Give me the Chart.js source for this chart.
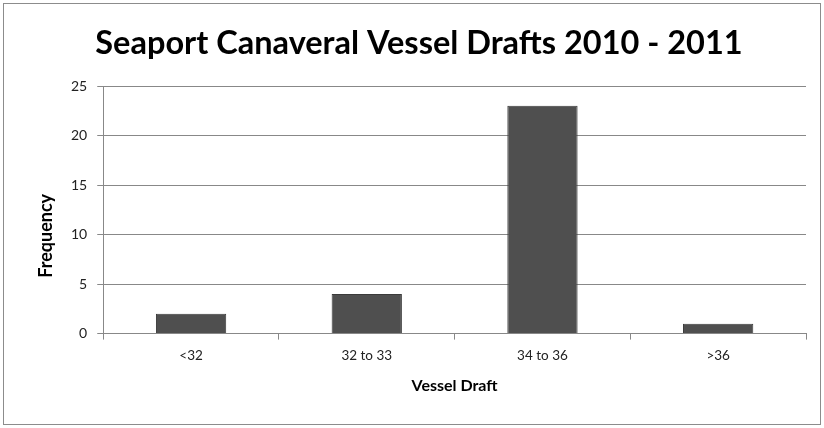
<!DOCTYPE html>
<html>
<head>
<meta charset="utf-8">
<script src="https://cdn.jsdelivr.net/npm/chart.js@4"></script>
<style>
  body { margin: 0; background: #fff; }
  #wrap { width: 824px; height: 428px; position: relative; }
</style>
</head>
<body>
<div id="wrap"><canvas id="myChart" width="824" height="428"></canvas></div>
<script>
const categories = ['<32', '32 to 33', '34 to 36', '>36'];
const frequency = [2, 4, 23, 1];
const yTicks = [0, 5, 10, 15, 20, 25];

// outer frame like the spreadsheet chart box
const frame = {
  id: 'frame',
  beforeDraw(chart) {
    const c = chart.ctx;
    c.save();
    c.fillStyle = '#fff';
    c.fillRect(0, 0, chart.width, chart.height);
    c.strokeStyle = '#8c8c8c';
    c.lineWidth = 1;
    c.strokeRect(3.5, 3.5, chart.width - 7, chart.height - 7);
    c.restore();
  }
};

// y axis title sits a bit below the plot middle in the original
const yTitle = {
  id: 'yTitle',
  afterDraw(chart) {
    const c = chart.ctx;
    const a = chart.chartArea;
    c.save();
    c.translate(46, (a.top + a.bottom) / 2 + 26);
    c.rotate(-Math.PI / 2);
    c.font = 'bold 18px Lato';
    c.fillStyle = '#000';
    c.textAlign = 'center';
    c.textBaseline = 'middle';
    c.fillText('Frequency', 0, 0);
    c.restore();
  }
};

const ctx = document.getElementById('myChart').getContext('2d');
const mychart = new Chart(ctx, {
  type: 'bar',
  data: {
    labels: categories,
    datasets: [{
      label: 'Frequency',
      data: frequency,
      backgroundColor: '#4f4f4f',
      borderColor: '#3a3a3a',
      borderWidth: 1,
      barPercentage: 0.4,
      categoryPercentage: 1
    }]
  },
  options: {
    responsive: false,
    animation: false,
    layout: { padding: { left: 32, right: 18, top: 0, bottom: 29 } },
    plugins: {
      legend: { display: false },
      tooltip: { enabled: false },
      title: {
        display: true,
        text: 'Seaport Canaveral Vessel Drafts 2010 - 2011',
        color: '#000',
        font: { family: 'Lato', size: 32.5, weight: 'bold' },
        padding: { top: 24, bottom: 23 }
      }
    },
    scales: {
      x: {
        grid: { drawOnChartArea: false, color: '#888', tickLength: 6 },
        border: { color: '#888' },
        ticks: { color: '#222', font: { family: 'Lato', size: 13.5 }, padding: 8 },
        title: {
          display: true,
          text: 'Vessel Draft',
          color: '#000',
          font: { family: 'Lato', size: 16, weight: 'bold' },
          padding: { top: 4 }
        }
      },
      y: {
        min: 0,
        max: 25,
        afterBuildTicks(axis) { axis.ticks = yTicks.map(v => ({ value: v })); },
        afterFit(axis) { axis.width += 29; },
        grid: { color: '#888', tickLength: 6 },
        border: { color: '#888' },
        ticks: { color: '#222', font: { family: 'Lato', size: 14 }, padding: 10 }
      }
    }
  },
  plugins: [frame, yTitle]
});
</script>
</body>
</html>
